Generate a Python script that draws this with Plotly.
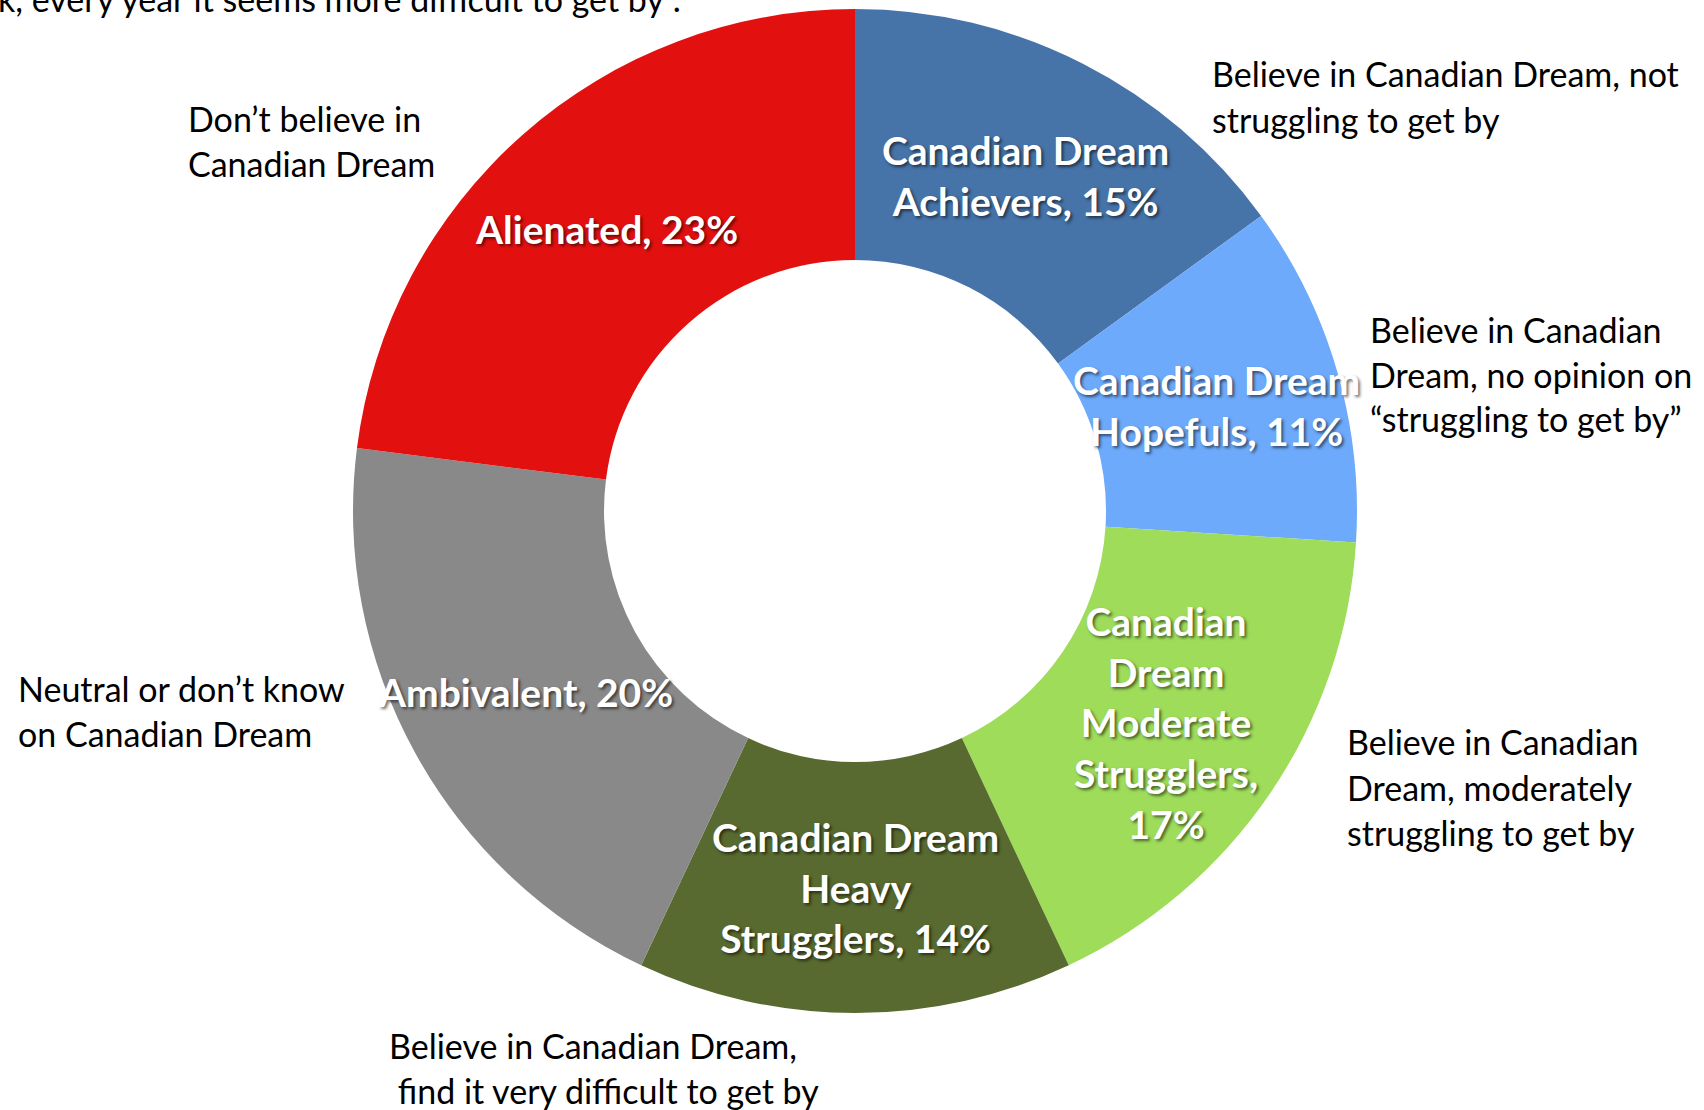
import math
import plotly.graph_objects as go

# ---- data ----
segments = ["Canadian Dream Achievers", "Canadian Dream Hopefuls",
            "Canadian Dream Moderate Strugglers", "Canadian Dream Heavy Strugglers",
            "Ambivalent", "Alienated"]
shares = [15, 11, 17, 14, 20, 23]
inner_labels = ["Canadian Dream<br>Achievers, 15%",
                "Canadian Dream<br>Hopefuls, 11%",
                "Canadian<br>Dream<br>Moderate<br>Strugglers,<br>17%",
                "Canadian Dream<br>Heavy<br>Strugglers, 14%",
                "Ambivalent, 20%",
                "Alienated, 23%"]
outer_notes = [["Believe in Canadian Dream, not", "struggling to get by"],
               ["Believe in Canadian", "Dream, no opinion on", "\u201cstruggling to get by\u201d"],
               ["Believe in Canadian", "Dream, moderately", "struggling to get by"],
               ["Believe in Canadian Dream,", " find it very difficult to get by"],
               ["Neutral or don\u2019t know", "on Canadian Dream"],
               ["Don\u2019t believe in", "Canadian Dream"]]
colors = ["#4673A8", "#6DAAFB", "#9EDC5A", "#586A2F", "#898989", "#E31010"]
top_text = "k, every year it seems more difficult to get by\u201d."

# ---- layout geometry (page pixels; body margin removed below) ----
W, H = 1704, 1110
cx, cy, R = 855, 511, 502
hole = 0.5

fig = go.Figure(go.Pie(
    labels=segments, values=shares, sort=False, direction="clockwise",
    rotation=0, hole=hole, textinfo="none", hoverinfo="label+percent",
    marker=dict(colors=colors, line=dict(width=0)),
    domain=dict(x=[(cx - R) / W, (cx + R) / W], y=[(H - cy - R) / H, (H - cy + R) / H]),
    showlegend=False,
))

annotations = []
total = sum(shares)
cum = 0
r_mid = R * (1 + hole) / 2
for v, lab in zip(shares, inner_labels):
    theta = 2 * math.pi * (cum + v / 2) / total
    cum += v
    px = cx + r_mid * math.sin(theta)
    py = cy - r_mid * math.cos(theta)
    annotations.append(dict(
        x=px / W, y=1 - py / H, xref="paper", yref="paper", text=lab,
        showarrow=False, xanchor="center", yanchor="middle", align="center",
        font=dict(family="Lato", size=39, color="white", weight="bold",
                  shadow="2px 2px 3px rgba(0,0,0,0.55)"),
    ))

# outer note anchors (left edge, centre of first line, page pixels) and line spacing
note_pos = [(1210, 74), (1368, 329), (1345, 742), (387, 1045), (16, 688), (186, 118)]
line_gap = 45
for lines, (nx, ny) in zip(outer_notes, note_pos):
    for i, ln in enumerate(lines):
        annotations.append(dict(
            x=nx / W, y=1 - (ny + i * line_gap) / H,
            xref="paper", yref="paper",
            text=ln.replace(" ", "&nbsp;", 1) if ln.startswith(" ") else ln,
            showarrow=False, xanchor="left", yanchor="middle", align="left",
            font=dict(family="Lato", size=34, color="black"),
        ))

annotations.append(dict(
    x=-4 / W, y=1 + 2 / H, xref="paper", yref="paper", text=top_text,
    showarrow=False, xanchor="left", yanchor="middle",
    font=dict(family="Lato", size=34, color="black"),
))

fig.update_layout(
    width=W, height=H, autosize=False,
    margin=dict(l=0, r=0, t=0, b=0),
    paper_bgcolor="white", plot_bgcolor="white",
    annotations=annotations,
)
fig.write_html("out.html", config={"displayModeBar": False},
               post_script="document.body.style.margin='0px';document.body.style.overflow='hidden';")
